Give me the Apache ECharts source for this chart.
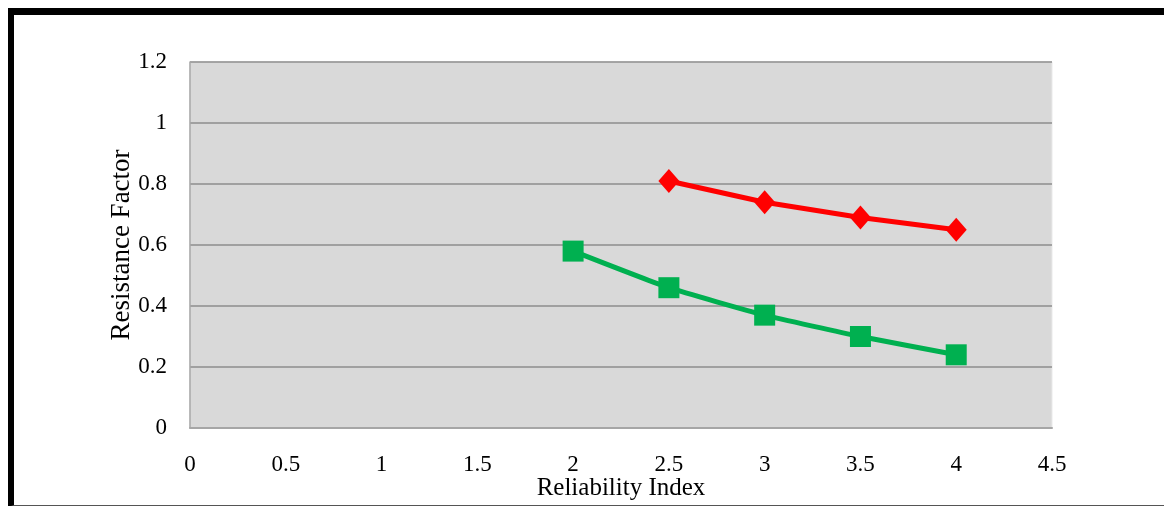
<!DOCTYPE html>
<html>
<head>
<meta charset="utf-8">
<script src="https://cdn.jsdelivr.net/npm/echarts@6/dist/echarts.min.js"></script>
<style>
  html, body { margin: 0; padding: 0; background: #fff; }
  #wrap { position: relative; width: 1164px; height: 506px; overflow: hidden; }
  #frame {
    position: absolute; left: 8px; top: 8px; width: 1200px; height: 490px;
    border-top: 7px solid #000; border-left: 6px solid #000; border-bottom: 2px solid #555;
    box-shadow: 0 1px 0 #bbb;
  }
  #chart { position: absolute; left: 0; top: 0; width: 1164px; height: 506px; }
</style>
</head>
<body>
<div id="wrap">
  <div id="frame"></div>
  <div id="chart"></div>
</div>
<script>
// Reliability index (x) vs resistance factor (y)
const redX = [2.5, 3, 3.5, 4];
const redY = [0.81, 0.74, 0.69, 0.65];
const greenX = [2, 2.5, 3, 3.5, 4];
const greenY = [0.58, 0.46, 0.37, 0.30, 0.24];
const xTicks = [0, 0.5, 1, 1.5, 2, 2.5, 3, 3.5, 4, 4.5];
const yTicks = [0, 0.2, 0.4, 0.6, 0.8, 1, 1.2];

const pairs = (xs, ys) => xs.map((x, i) => [x, ys[i]]);
const font = '"Liberation Serif", "Times New Roman", serif';

const chart = echarts.init(document.getElementById('chart'), null, { renderer: 'canvas' });
chart.setOption({
  animation: false,
  backgroundColor: 'transparent',
  grid: { left: 190, right: 112, top: 62, bottom: 78, show: true,
          outerBoundsMode: 'none', containLabel: false,
          backgroundColor: '#D9D9D9', borderColor: '#E9E9E9', borderWidth: 1 },
  xAxis: {
    type: 'value', min: xTicks[0], max: xTicks[xTicks.length - 1], interval: 0.5,
    name: 'Reliability Index', nameLocation: 'middle', nameGap: 48, nameMoveOverlap: false,
    nameTextStyle: { fontFamily: font, fontSize: 25, color: '#000' },
    axisLine: { show: true, onZero: false, lineStyle: { color: '#A6A6A6', width: 2 } },
    axisTick: { show: false },
    axisLabel: { fontFamily: font, fontSize: 23, color: '#000', margin: 25 },
    splitLine: { show: false }
  },
  yAxis: {
    type: 'value', min: yTicks[0], max: yTicks[yTicks.length - 1], interval: 0.2,
    name: 'Resistance Factor', nameLocation: 'middle', nameGap: 55, nameMoveOverlap: false,
    nameTextStyle: { fontFamily: font, fontSize: 27, color: '#000' },
    axisLine: { show: true, lineStyle: { color: '#A6A6A6', width: 1.5 } },
    axisTick: { show: false },
    axisLabel: { fontFamily: font, fontSize: 23, color: '#000', margin: 23,
                 formatter: v => String(Math.round(v * 10) / 10) },
    splitLine: { show: true, lineStyle: { color: '#8C8C8C', width: 1.5 } }
  },
  series: [
    {
      type: 'line', data: pairs(redX, redY),
      symbol: 'diamond', symbolSize: [21, 24],
      lineStyle: { color: '#FF0000', width: 5 },
      itemStyle: { color: '#FF0000' }
    },
    {
      type: 'line', data: pairs(greenX, greenY), smooth: 0.15,
      symbol: 'rect', symbolSize: 21,
      lineStyle: { color: '#00B050', width: 5 },
      itemStyle: { color: '#00B050' }
    }
  ]
});
</script>
</body>
</html>
